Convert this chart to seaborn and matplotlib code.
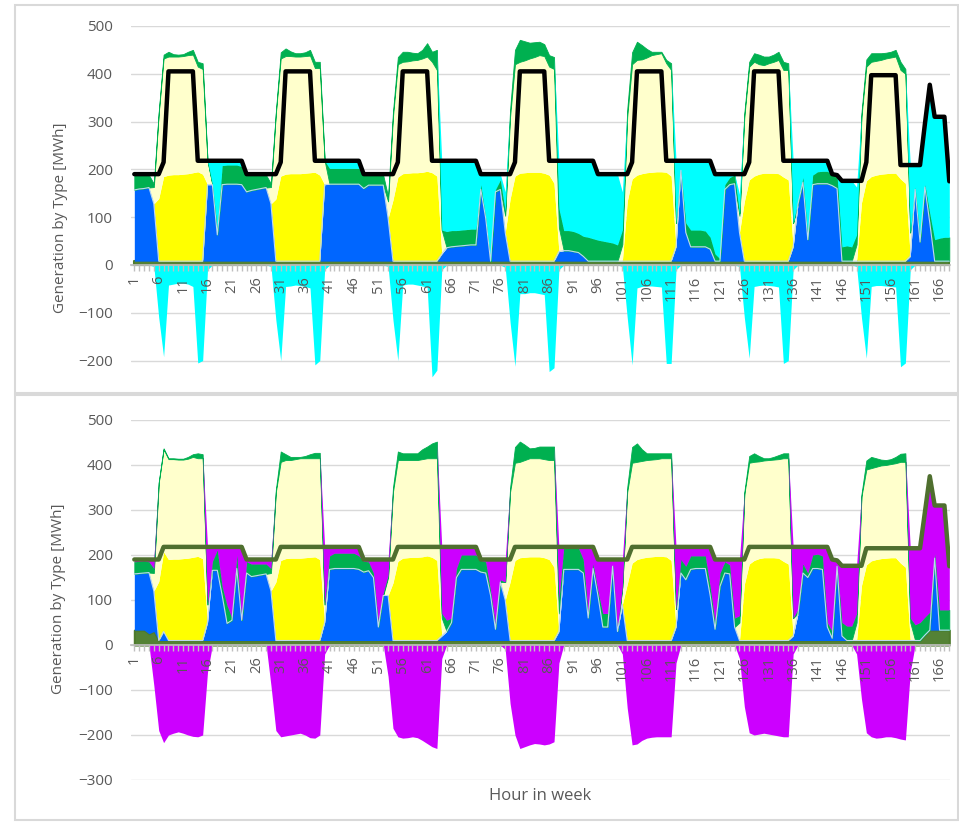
import numpy as np
import matplotlib
matplotlib.use("Agg")
import matplotlib.pyplot as plt
from matplotlib.patches import Rectangle
import seaborn as sns

hours = list(range(1, 169))

# solar-like layer, same in both panels
yellow = [
    0, 0, 0, 0, 0, 131, 177, 180, 181, 181, 182, 183, 185, 187, 182, 0, 0, 0, 0, 0, 0, 0, 0, 0,
    0, 0, 0, 0, 0, 130, 178, 182, 183, 183, 183, 184, 185, 186, 180, 0, 0, 0, 0, 0, 0, 0, 0, 0,
    0, 0, 0, 0, 0, 128, 176, 183, 184, 185, 185, 186, 188, 185, 178, 0, 0, 0, 0, 0, 0, 0, 0, 0,
    0, 0, 0, 0, 0, 130, 178, 184, 185, 186, 186, 186, 184, 180, 163, 0, 0, 0, 0, 0, 0, 0, 0, 0,
    0, 0, 0, 0, 0, 125, 172, 180, 183, 185, 186, 187, 187, 186, 178, 0, 0, 0, 0, 0, 0, 0, 0, 0,
    0, 0, 0, 0, 0, 125, 170, 178, 182, 184, 184, 184, 183, 176, 170, 0, 0, 0, 0, 0, 0, 0, 0, 0,
    0, 0, 0, 0, 0, 122, 168, 177, 180, 182, 183, 184, 184, 172, 163, 0, 0, 0, 0, 0, 0, 0, 0, 0,
]

# ---------------- top panel (cyan storage) ----------------
base_t = [
    8, 8, 8, 8, 8, 8, 8, 8, 8, 8, 8, 8, 8, 8, 8, 8, 8, 8, 8, 8, 8, 8, 8, 8,
    8, 8, 8, 8, 8, 8, 8, 8, 8, 8, 8, 8, 8, 8, 8, 8, 8, 8, 8, 8, 8, 8, 8, 8,
    8, 8, 8, 8, 8, 8, 8, 8, 8, 8, 8, 8, 8, 8, 8, 8, 8, 8, 8, 8, 8, 8, 8, 8,
    8, 8, 8, 8, 8, 8, 8, 8, 8, 8, 8, 8, 8, 8, 8, 8, 8, 8, 8, 8, 8, 8, 8, 8,
    8, 8, 8, 8, 8, 8, 8, 8, 8, 8, 8, 8, 8, 8, 8, 8, 8, 8, 8, 8, 8, 8, 8, 8,
    8, 8, 8, 8, 8, 8, 8, 8, 8, 8, 8, 8, 8, 8, 8, 8, 8, 8, 8, 8, 8, 8, 8, 8,
    8, 8, 8, 8, 8, 8, 8, 8, 8, 8, 8, 8, 8, 8, 8, 8, 8, 8, 8, 8, 8, 8, 8, 8,
]
blue_t = [
    149, 151, 152, 154, 120, 0, 0, 0, 0, 0, 0, 0, 0, 0, 0, 160, 160, 55, 160, 161, 161, 161, 160, 145,
    148, 150, 152, 154, 120, 0, 0, 0, 0, 0, 0, 0, 0, 0, 0, 160, 161, 161, 161, 161, 161, 161, 161, 152,
    159, 159, 159, 159, 90, 0, 0, 0, 0, 0, 0, 0, 0, 0, 0, 15, 28, 30, 31, 32, 33, 34, 34, 150,
    90, 0, 145, 150, 60, 0, 0, 0, 0, 0, 0, 0, 0, 0, 0, 20, 22, 22, 20, 18, 10, 0, 0, 0,
    0, 0, 0, 0, 0, 0, 0, 0, 0, 0, 0, 0, 0, 0, 0, 30, 190, 60, 30, 30, 30, 30, 25, 0,
    0, 150, 160, 162, 60, 0, 0, 0, 0, 0, 0, 0, 0, 0, 0, 30, 120, 165, 45, 160, 162, 162, 162, 158,
    152, 0, 0, 0, 0, 0, 0, 0, 0, 0, 0, 0, 0, 0, 0, 10, 150, 40, 155, 80, 0, 0, 0, 0,
]
ly_t = [
    0, 0, 0, 0, 35, 178, 247, 248, 247, 247, 247, 248, 247, 220, 220, 50, 0, 0, 0, 0, 0, 0, 0, 0,
    0, 0, 0, 0, 35, 179, 246, 247, 246, 245, 245, 245, 245, 218, 224, 50, 0, 0, 0, 0, 0, 0, 0, 0,
    0, 0, 0, 0, 35, 174, 236, 234, 234, 235, 236, 238, 240, 232, 222, 50, 0, 0, 0, 0, 0, 0, 0, 0,
    0, 0, 0, 0, 35, 172, 234, 233, 235, 238, 241, 245, 245, 227, 239, 50, 0, 0, 0, 0, 0, 0, 0, 0,
    0, 0, 0, 0, 35, 177, 240, 241, 239, 241, 245, 246, 248, 228, 222, 50, 0, 0, 0, 0, 0, 0, 0, 0,
    0, 0, 0, 0, 35, 177, 237, 239, 230, 226, 230, 233, 238, 224, 230, 50, 0, 0, 0, 0, 0, 0, 0, 0,
    0, 0, 0, 0, 35, 180, 239, 240, 239, 239, 241, 242, 244, 228, 229, 50, 0, 0, 0, 0, 0, 0, 0, 0,
]
green_t = [
    31, 29, 28, 26, 7, 3, 8, 10, 5, 4, 4, 7, 10, 10, 12, 0, 0, 12, 40, 40, 40, 40, 38, 37,
    32, 30, 28, 26, 7, 3, 13, 16, 10, 7, 7, 8, 12, 13, 13, 0, 33, 33, 33, 33, 33, 33, 33, 28,
    21, 21, 21, 21, 10, 10, 15, 21, 20, 16, 14, 18, 28, 21, 42, 0, 34, 34, 33, 33, 33, 33, 33, 10,
    0, 0, 5, 20, 10, 15, 30, 46, 40, 33, 31, 28, 25, 24, 25, 40, 42, 42, 42, 40, 42, 50, 47, 44,
    42, 40, 38, 34, 30, 15, 25, 38, 30, 18, 7, 5, 3, 7, 14, 0, 0, 20, 35, 35, 35, 33, 25, 15,
    5, 10, 15, 18, 5, 8, 10, 18, 20, 18, 14, 15, 17, 17, 14, 0, 5, 10, 5, 20, 25, 26, 26, 24,
    28, 30, 32, 30, 20, 8, 15, 18, 16, 14, 12, 12, 14, 17, 10, 0, 5, 5, 5, 20, 45, 48, 50, 50,
]
cyan_pos = [
    0, 0, 0, 0, 0, 0, 0, 0, 0, 0, 0, 0, 0, 0, 0, 0, 50, 143, 10, 9, 9, 9, 12, 0,
    0, 0, 0, 0, 0, 0, 0, 0, 0, 0, 0, 0, 0, 0, 0, 0, 16, 16, 16, 16, 16, 16, 16, 0,
    0, 0, 0, 0, 0, 0, 0, 0, 0, 0, 0, 0, 0, 0, 0, 145, 148, 146, 146, 145, 144, 143, 143, 22,
    92, 182, 32, 12, 40, 0, 0, 0, 0, 0, 0, 0, 0, 0, 0, 100, 146, 146, 148, 152, 158, 160, 163, 138,
    140, 142, 144, 148, 80, 0, 0, 0, 0, 0, 0, 0, 0, 0, 0, 130, 20, 130, 145, 145, 145, 147, 160, 167,
    177, 22, 7, 2, 40, 0, 0, 0, 0, 0, 0, 0, 0, 0, 0, 130, 85, 35, 160, 30, 23, 22, 22, 0,
    0, 138, 136, 138, 100, 0, 0, 0, 0, 0, 0, 0, 0, 0, 0, 141, 46, 156, 127, 269, 257, 254, 252, 117,
]
cyan_neg = [
    0, 0, 0, 0, -3, -110, -192, -42, -40, -38, -38, -40, -45, -205, -200, -10, 0, 0, 0, 0, 0, 0, 0, 0,
    0, 0, 0, 0, -3, -115, -200, -45, -44, -42, -43, -45, -48, -209, -200, -10, 0, 0, 0, 0, 0, 0, 0, 0,
    0, 0, 0, 0, -3, -115, -200, -42, -40, -40, -42, -44, -46, -234, -220, -10, 0, 0, 0, 0, 0, 0, 0, 0,
    0, 0, 0, 0, -5, -120, -212, -60, -60, -58, -58, -60, -62, -223, -215, -10, 0, 0, 0, 0, 0, 0, 0, 0,
    0, 0, 0, 0, -3, -110, -209, -48, -45, -44, -44, -45, -46, -206, -206, -10, 0, 0, 0, 0, 0, 0, 0, 0,
    0, 0, 0, 0, -3, -110, -195, -45, -43, -42, -43, -44, -46, -206, -200, -10, 0, 0, 0, 0, 0, 0, 0, 0,
    0, 0, 0, 0, -3, -110, -195, -45, -43, -43, -44, -45, -46, -213, -205, -10, 0, 0, 0, 0, 0, 0, 0, 0,
]
load_t = [
    190, 190, 190, 190, 190, 190, 215, 405, 405, 405, 405, 405, 405, 218, 218, 218, 218, 218, 218, 218, 218, 218, 218, 190,
    190, 190, 190, 190, 190, 190, 215, 405, 405, 405, 405, 405, 405, 218, 218, 218, 218, 218, 218, 218, 218, 218, 218, 190,
    190, 190, 190, 190, 190, 190, 215, 405, 405, 405, 405, 405, 405, 218, 218, 218, 218, 218, 218, 218, 218, 218, 218, 190,
    190, 190, 190, 190, 190, 190, 215, 405, 405, 405, 405, 405, 405, 218, 218, 218, 218, 218, 218, 218, 218, 218, 218, 190,
    190, 190, 190, 190, 190, 190, 215, 405, 405, 405, 405, 405, 405, 218, 218, 218, 218, 218, 218, 218, 218, 218, 218, 190,
    190, 190, 190, 190, 190, 190, 215, 405, 405, 405, 405, 405, 405, 218, 218, 218, 218, 218, 218, 218, 218, 218, 218, 190,
    188, 176, 176, 176, 176, 176, 215, 397, 397, 397, 397, 397, 397, 209, 209, 209, 209, 209, 295, 377, 310, 310, 310, 175,
]

# ---------------- bottom panel (magenta storage) ----------------
base_b = [
    33, 33, 33, 25, 30, 10, 10, 10, 10, 10, 10, 10, 10, 10, 10, 10, 10, 10, 10, 10, 10, 10, 10, 10,
    10, 10, 10, 10, 10, 10, 10, 10, 10, 10, 10, 10, 10, 10, 10, 10, 10, 10, 10, 10, 10, 10, 10, 10,
    10, 10, 10, 10, 10, 10, 10, 10, 10, 10, 10, 10, 10, 10, 10, 10, 10, 10, 10, 10, 10, 10, 10, 10,
    10, 10, 10, 10, 10, 10, 10, 10, 10, 10, 10, 10, 10, 10, 10, 10, 10, 10, 10, 10, 10, 10, 10, 10,
    10, 10, 10, 10, 10, 10, 10, 10, 10, 10, 10, 10, 10, 10, 10, 10, 10, 10, 10, 10, 10, 10, 10, 10,
    10, 10, 10, 10, 10, 10, 10, 10, 10, 10, 10, 10, 10, 10, 10, 10, 10, 10, 10, 10, 10, 10, 10, 10,
    10, 10, 10, 10, 10, 10, 10, 10, 10, 10, 10, 10, 10, 10, 10, 10, 10, 10, 22, 33, 33, 33, 33, 33,
]
blue_b = [
    125, 126, 127, 136, 90, 0, 20, 0, 0, 0, 0, 0, 0, 0, 0, 40, 156, 156, 100, 38, 45, 160, 45, 150,
    142, 144, 146, 148, 110, 0, 0, 0, 0, 0, 0, 0, 0, 0, 0, 40, 158, 160, 160, 160, 160, 160, 158, 152,
    155, 140, 30, 100, 100, 0, 0, 0, 0, 0, 0, 0, 0, 0, 0, 10, 20, 40, 140, 158, 158, 158, 158, 152,
    150, 100, 25, 130, 90, 0, 0, 0, 0, 0, 0, 0, 0, 0, 0, 20, 158, 158, 158, 158, 150, 50, 160, 100,
    30, 30, 165, 20, 80, 0, 0, 0, 0, 0, 0, 0, 0, 0, 0, 30, 150, 135, 158, 160, 160, 160, 100, 25,
    120, 150, 148, 30, 0, 0, 0, 0, 0, 0, 0, 0, 0, 0, 0, 10, 60, 150, 140, 160, 160, 158, 30, 5,
    165, 10, 0, 0, 0, 0, 0, 0, 0, 0, 0, 0, 0, 0, 0, 0, 0, 0, 0, 0, 160, 0, 0, 0,
]
ly_b = [
    0, 0, 0, 0, 40, 219, 228, 223, 222, 221, 220, 221, 223, 218, 223, 40, 0, 0, 0, 0, 0, 0, 0, 0,
    0, 0, 0, 0, 40, 200, 219, 219, 218, 220, 222, 221, 220, 219, 225, 40, 0, 0, 0, 0, 0, 0, 0, 0,
    0, 0, 0, 0, 40, 202, 225, 218, 217, 216, 216, 217, 217, 220, 227, 40, 0, 0, 0, 0, 0, 0, 0, 0,
    0, 0, 0, 0, 40, 200, 217, 213, 216, 219, 219, 219, 219, 221, 238, 40, 0, 0, 0, 0, 0, 0, 0, 0,
    0, 0, 0, 0, 40, 205, 223, 217, 216, 216, 216, 216, 218, 219, 227, 40, 0, 0, 0, 0, 0, 0, 0, 0,
    0, 0, 0, 0, 40, 200, 225, 219, 216, 216, 217, 218, 220, 229, 235, 40, 0, 0, 0, 0, 0, 0, 0, 0,
    0, 0, 0, 0, 40, 198, 212, 206, 206, 207, 207, 208, 210, 225, 234, 40, 0, 0, 0, 0, 0, 0, 0, 0,
]
green_b = [
    27, 27, 27, 24, 10, 2, 2, 2, 2, 2, 2, 4, 6, 11, 9, 0, 20, 45, 20, 40, 5, 30, 0, 25,
    28, 26, 24, 22, 10, 5, 23, 13, 7, 5, 3, 5, 9, 12, 12, 0, 30, 34, 34, 34, 34, 34, 30, 24,
    20, 10, 10, 5, 5, 10, 19, 15, 15, 15, 15, 22, 26, 33, 37, 10, 25, 10, 20, 32, 32, 32, 32, 26,
    25, 10, 10, 5, 0, 10, 35, 45, 34, 22, 23, 26, 28, 30, 30, 30, 50, 48, 48, 48, 30, 10, 10, 10,
    30, 30, 5, 5, 0, 10, 35, 41, 26, 15, 14, 13, 11, 11, 11, 0, 30, 30, 30, 28, 28, 28, 20, 15,
    30, 25, 20, 20, 15, 5, 15, 19, 12, 5, 4, 6, 9, 11, 11, 0, 10, 20, 10, 30, 32, 30, 10, 15,
    5, 30, 32, 32, 20, 5, 20, 25, 19, 13, 11, 11, 14, 18, 19, 10, 35, 40, 40, 40, 10, 45, 45, 45,
]
mag_pos = [
    5, 4, 3, 5, 20, 0, 0, 0, 0, 0, 0, 0, 0, 0, 0, 128, 32, 7, 88, 130, 158, 18, 163, 5,
    10, 10, 10, 10, 20, 0, 0, 0, 0, 0, 0, 0, 0, 0, 0, 128, 20, 14, 14, 14, 14, 14, 20, 4,
    5, 30, 140, 75, 35, 0, 0, 0, 0, 0, 0, 0, 0, 0, 0, 148, 163, 158, 48, 18, 18, 18, 18, 2,
    5, 70, 145, 45, 50, 0, 0, 0, 0, 0, 0, 0, 0, 0, 0, 118, 0, 2, 2, 2, 28, 148, 38, 70,
    120, 120, 10, 155, 60, 0, 0, 0, 0, 0, 0, 0, 0, 0, 0, 138, 28, 43, 20, 20, 20, 20, 88, 140,
    30, 5, 12, 130, 125, 0, 0, 0, 0, 0, 0, 0, 0, 0, 0, 158, 138, 38, 58, 18, 16, 20, 168, 160,
    8, 126, 134, 134, 106, 0, 0, 0, 0, 0, 0, 0, 0, 0, 0, 155, 170, 165, 233, 302, 107, 232, 232, 97,
]
mag_neg = [
    0, 0, 0, 0, -90, -190, -217, -200, -196, -193, -196, -200, -203, -204, -200, -60, 0, 0, 0, 0, 0, 0, 0, 0,
    0, 0, 0, 0, -90, -190, -204, -202, -200, -198, -196, -200, -206, -207, -200, -20, 0, 0, 0, 0, 0, 0, 0, 0,
    0, 0, 0, 0, -70, -185, -204, -207, -206, -204, -206, -212, -219, -226, -230, -30, 0, 0, 0, 0, 0, 0, 0, 0,
    0, 0, 0, 0, -10, -130, -200, -230, -226, -222, -219, -220, -222, -220, -215, -40, 0, 0, 0, 0, 0, 0, 0, 0,
    0, 0, 0, 0, -20, -140, -222, -220, -212, -207, -205, -204, -204, -204, -204, -40, 0, 0, 0, 0, 0, 0, 0, 0,
    0, 0, 0, 0, -30, -137, -195, -200, -198, -196, -198, -200, -202, -204, -204, -20, 0, 0, 0, 0, 0, 0, 0, 0,
    0, 0, 0, 0, -20, -120, -195, -204, -207, -206, -204, -204, -206, -209, -211, -60, 0, 0, 0, 0, 0, 0, 0, 0,
]
load_b = [
    190, 190, 190, 190, 190, 190, 218, 218, 218, 218, 218, 218, 218, 218, 218, 218, 218, 218, 218, 218, 218, 218, 218, 190,
    190, 190, 190, 190, 190, 190, 218, 218, 218, 218, 218, 218, 218, 218, 218, 218, 218, 218, 218, 218, 218, 218, 218, 190,
    190, 190, 190, 190, 190, 190, 218, 218, 218, 218, 218, 218, 218, 218, 218, 218, 218, 218, 218, 218, 218, 218, 218, 190,
    190, 190, 190, 190, 190, 190, 218, 218, 218, 218, 218, 218, 218, 218, 218, 218, 218, 218, 218, 218, 218, 218, 218, 190,
    190, 190, 190, 190, 190, 190, 218, 218, 218, 218, 218, 218, 218, 218, 218, 218, 218, 218, 218, 218, 218, 218, 218, 190,
    190, 190, 190, 190, 190, 190, 218, 218, 218, 218, 218, 218, 218, 218, 218, 218, 218, 218, 218, 218, 218, 218, 218, 190,
    188, 176, 176, 176, 176, 176, 215, 215, 215, 215, 215, 215, 215, 215, 215, 215, 215, 215, 295, 375, 310, 310, 310, 175,
]

OLIVE = "#548235"
BLUE = "#0066FF"
YELLOW = "#FFFF00"
LIGHT_YELLOW = "#FFFFCC"
GREEN = "#00B050"
CYAN = "#00FFFF"
MAGENTA = "#CC00FF"
TEXT = "#595959"
GRID = "#D9D9D9"

sns.set_theme(style="white")
plt.rcParams['font.family'] = ['Open Sans', 'DejaVu Sans']


def draw_panel(ax, base, blue, ly, green, store_pos, store_neg, load,
               store_color, line_color, ymin, yticks):
    layers = ax.stackplot(hours, base, blue, yellow, ly, green, store_pos,
                          colors=[OLIVE, BLUE, YELLOW, LIGHT_YELLOW, GREEN, store_color],
                          linewidth=0, zorder=2)
    layers[0].set_edgecolor("#4E7A2C")
    layers[0].set_linewidth(1.5)
    layers[4].set_edgecolor(GREEN)
    layers[4].set_linewidth(0.6)
    ax.fill_between(hours, store_neg, 0, color=store_color, linewidth=0, zorder=2)
    # light edge on top of the blue layer
    ax.plot(hours, np.add(base, blue), color="#BDD7EE", lw=0.8, zorder=3)
    sns.lineplot(x=hours, y=load, ax=ax, color=line_color, linewidth=3.2, zorder=4)

    for t in yticks:
        ax.axhline(t, color=GRID, lw=1, zorder=0)
    ax.set_xlim(0.32, 168.14)
    ax.set_ylim(ymin, 500)
    ax.set_yticks(yticks)
    ax.set_xticks(range(1, 169, 5))
    ax.set_xticks(hours, minor=True)
    ax.set_axisbelow(False)
    for s in ['top', 'right', 'left']:
        ax.spines[s].set_visible(False)
    ax.spines['bottom'].set_position(('data', 0))
    ax.spines['bottom'].set_color("#BFBFBF")
    ax.tick_params(axis='x', which='both', direction='out', length=4,
                   color="#BFBFBF", width=1, bottom=True)
    ax.tick_params(axis='x', which='major', labelrotation=90, labelsize=10.5,
                   labelcolor=TEXT, pad=4)
    ax.tick_params(axis='y', length=0, labelsize=11, labelcolor=TEXT, pad=13)
    ax.set_xlabel("")
    ax.set_ylabel("")


fig = plt.figure(figsize=(9.59, 8.24), dpi=100)
ax_top = fig.add_axes([0.1366, 0.5334, 0.854, 0.4351])
ax_bot = fig.add_axes([0.1366, 0.0534, 0.854, 0.4369])

draw_panel(ax_top, base_t, blue_t, ly_t, green_t, cyan_pos, cyan_neg, load_t,
           CYAN, "black", -250, [-200, -100, 0, 100, 200, 300, 400, 500])
draw_panel(ax_bot, base_b, blue_b, ly_b, green_b, mag_pos, mag_neg, load_b,
           MAGENTA, "#4F6F2F", -300, [-300, -200, -100, 0, 100, 200, 300, 400, 500])

fig.text(0.0626, 0.7354, "Generation by Type [MWh]", rotation=90, ha='center',
         va='center', fontsize=11, color=TEXT)
fig.text(0.0605, 0.273, "Generation by Type [MWh]", rotation=90, ha='center',
         va='center', fontsize=11, color=TEXT)
fig.text(0.563, 0.034, "Hour in week", ha='center', va='center', fontsize=12, color=TEXT)

# panel frames
fig.add_artist(Rectangle((15 / 959, 1 - 393 / 824), 943 / 959, 388 / 824,
                         transform=fig.transFigure, fill=False, edgecolor=GRID, lw=1.5))
fig.add_artist(Rectangle((15 / 959, 1 - 820 / 824), 943 / 959, 425 / 824,
                         transform=fig.transFigure, fill=False, edgecolor=GRID, lw=1.5))

fig.savefig("out.png", dpi=100, facecolor="white")
